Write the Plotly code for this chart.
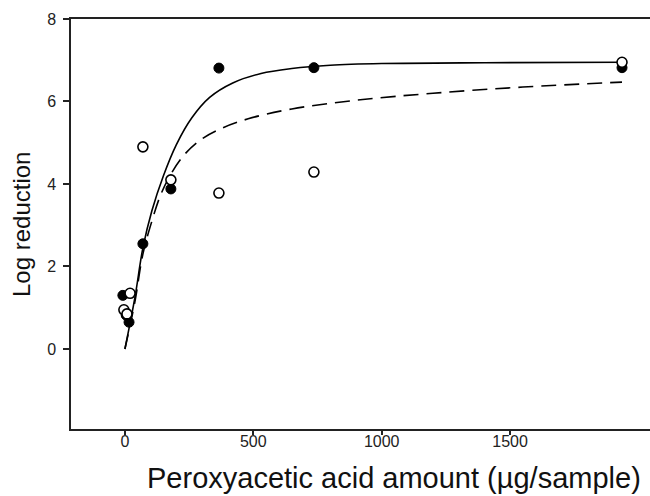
import plotly.graph_objects as go

filled_x = [-8, 5, 16, 70, 179, 366, 736, 1936]
filled_y = [1.30, 0.82, 0.65, 2.55, 3.88, 6.81, 6.82, 6.82]
open_x = [-4, 8, 20, 70, 179, 366, 736, 1936]
open_y = [0.95, 0.85, 1.35, 4.90, 4.10, 3.78, 4.29, 6.95]

# Fitted curves
solid_x = [0, 39, 70, 105, 150, 200, 260, 330, 420, 530, 650, 800, 1000, 1400, 1936]
solid_y = [0, 1.25, 2.45, 3.35, 4.20, 4.95, 5.60, 6.10, 6.45, 6.68, 6.80, 6.88, 6.92, 6.94, 6.95]
dash_x = [0, 39, 70, 105, 140, 180, 230, 290, 370, 480, 650, 900, 1200, 1550, 1936]
dash_y = [0, 1.15, 2.30, 3.10, 3.75, 4.25, 4.70, 5.05, 5.33, 5.58, 5.82, 6.03, 6.20, 6.35, 6.47]

x_ticks = [0, 500, 1000, 1500]
y_ticks = [0, 2, 4, 6, 8]
x_title = "Peroxyacetic acid amount (µg/sample)"
y_title = "Log reduction"

fig = go.Figure()
fig.add_trace(go.Scatter(x=solid_x, y=solid_y, mode="lines",
                         line=dict(color="black", width=1.6, shape="spline", smoothing=1.0),
                         hoverinfo="skip", showlegend=False))
fig.add_trace(go.Scatter(x=dash_x, y=dash_y, mode="lines",
                         line=dict(color="black", width=1.6, dash="15px,8px", shape="spline", smoothing=1.0),
                         hoverinfo="skip", showlegend=False))
fig.add_trace(go.Scatter(x=filled_x, y=filled_y, mode="markers",
                         marker=dict(symbol="circle", size=10, color="black",
                                     line=dict(color="black", width=1)),
                         showlegend=False))
fig.add_trace(go.Scatter(x=open_x, y=open_y, mode="markers",
                         marker=dict(symbol="circle", size=10, color="white",
                                     line=dict(color="black", width=1.6)),
                         showlegend=False))

font_family = "Liberation Sans, Arial, sans-serif"
fig.update_layout(
    width=650, height=496,
    margin=dict(l=71, r=0, t=19, b=67),
    paper_bgcolor="white", plot_bgcolor="white",
    font=dict(family=font_family, color="#222"),
    xaxis=dict(range=[-210, 2045], tickvals=x_ticks, ticks="outside", ticklen=4,
               tickwidth=1.5, tickcolor="#222", showline=True, linecolor="#222",
               linewidth=1.5, mirror=True, showgrid=False, zeroline=False,
               tickfont=dict(size=16, color="#222"), ticklabelstandoff=-7),
    yaxis=dict(range=[-1.94, 8], tickvals=y_ticks, ticks="outside", ticklen=6,
               tickwidth=1.5, tickcolor="#222", showline=True, linecolor="#222",
               linewidth=1.5, showgrid=False, zeroline=False,
               tickfont=dict(size=16, color="#222"), ticklabelstandoff=4),
    annotations=[
        dict(text=x_title, xref="paper", yref="paper", x=0.558, y=-0.1195,
             xanchor="center", yanchor="middle", showarrow=False,
             font=dict(size=29, color="#111", family=font_family)),
        dict(text=y_title, xref="paper", yref="paper", x=-0.0846, y=0.4976,
             xanchor="center", yanchor="middle", textangle=-90, showarrow=False,
             font=dict(size=24, color="#111", family=font_family)),
    ],
)

fig.write_html("out.html", config={"displayModeBar": False},
               post_script="document.body.style.margin='0px';document.body.style.overflow='hidden';")
